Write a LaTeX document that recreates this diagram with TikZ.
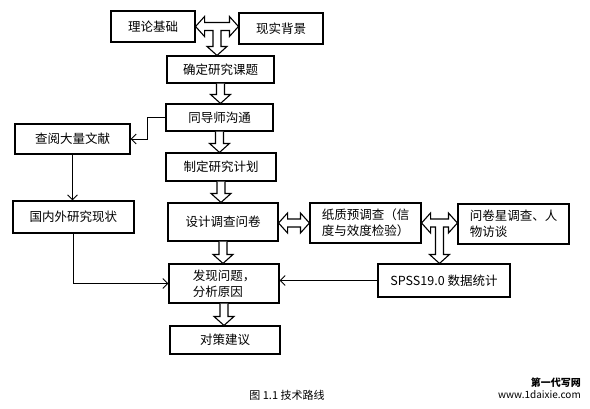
\documentclass[tikz,border=0pt]{standalone}
\usepackage{fontspec}
\setmainfont{Noto Sans CJK SC}
\usetikzlibrary{arrows.meta,calc}
\tikzset{
  box/.style={draw,line width=1.1pt,inner sep=0pt,align=center,font=\fontsize{12.5}{16}\selectfont},
  lbox/.style={box,align=left},
  link/.style={line width=0.9pt,-{Straight Barb[length=5pt,width=10pt,line width=0.9pt]}},
  harrow/.style={line width=1.1pt,line join=miter,fill=white}
}
\def\sw{4pt}\def\hw{10pt}\def\hl{9pt}
% vertical hollow arrow: x from #1, from y of #1 to y of #2
\newcommand{\hdown}[2]{%
  \draw[harrow] let \p1=(#1), \p2=(#2) in
   (\x1-\sw,\y1) -- (\x1-\sw,\y2+\hl) -- (\x1-\hw,\y2+\hl) -- (\x1,\y2) -- (\x1+\hw,\y2+\hl) -- (\x1+\sw,\y2+\hl) -- (\x1+\sw,\y1);}
% horizontal double hollow arrow between #1 (left) and #2 (right), at y of #2
\newcommand{\hboth}[2]{%
  \draw[harrow] let \p1=(#1), \p2=(#2) in
   (\x1,\y2) -- (\x1+\hl,\y2+\hw) -- (\x1+\hl,\y2+\sw) -- (\x2-\hl,\y2+\sw) -- (\x2-\hl,\y2+\hw) -- (\x2,\y2)
   -- (\x2-\hl,\y2-\hw) -- (\x2-\hl,\y2-\sw) -- (\x1+\hl,\y2-\sw) -- (\x1+\hl,\y2-\hw) -- cycle;}
% T-shaped hollow arrow: left #1, right #2, down to #3, shaft at y #4 (offset)
\newcommand{\htee}[4]{%
  \draw[harrow] let \p1=(#1), \p2=(#2), \p3=(#3), \n1={(\x1+\x2)/2} in
   (\x1,\y2+#4) -- (\x1+\hl,\y2+#4+\hw) -- (\x1+\hl,\y2+#4+\sw) -- (\x2-\hl,\y2+#4+\sw) -- (\x2-\hl,\y2+#4+\hw) -- (\x2,\y2+#4)
   -- (\x2-\hl,\y2+#4-\hw) -- (\x2-\hl,\y2+#4-\sw) -- (\n1+\sw,\y2+#4-\sw) -- (\n1+\sw,\y3+\hl) -- (\n1+\hw,\y3+\hl)
   -- (\n1,\y3) -- (\n1-\hw,\y3+\hl) -- (\n1-\sw,\y3+\hl) -- (\n1-\sw,\y2+#4-\sw) -- (\x1+\hl,\y2+#4-\sw) -- (\x1+\hl,\y2+#4-\hw) -- cycle;}
\begin{document}
\begin{tikzpicture}[x=1pt,y=-1pt]
\useasboundingbox (0,0) rectangle (590,408);
\node[box,minimum width=84,minimum height=31] (th) at (153,26.5) {理论基础};
\node[box,minimum width=84,minimum height=31] (xs) at (281,28.5) {现实背景};
\node[box,minimum width=107,minimum height=27] (qd) at (220.5,69.5) {确定研究课题};
\node[box,minimum width=107,minimum height=27] (ds) at (219.5,117.5) {同导师沟通};
\node[box,minimum width=115,minimum height=30] (cy) at (72.5,139) {查阅大量文献};
\node[box,minimum width=110,minimum height=28] (zd) at (221,167) {制定研究计划};
\node[box,minimum width=121,minimum height=32] (gn) at (73.5,217) {国内外研究现状};
\node[box,minimum width=110,minimum height=38] (sj) at (223,222) {设计调查问卷};
\node[lbox,minimum width=111,minimum height=40] (zz) at (365.5,223) {纸质预调查（信\\度与效度检验）};
\node[lbox,minimum width=111,minimum height=40] (wj) at (513.5,224) {问卷星调查、人\\物访谈};
\node[lbox,minimum width=110,minimum height=39] (fx) at (224,283.5) {发现问题，\\分析原因};
\node[box,minimum width=132,minimum height=33] (sp) at (444,280.5) {SPSS19.0 数据统计};
\node[box,minimum width=110,minimum height=28] (dc) at (225,340) {对策建议};
\node[font=\fontsize{11}{13}\selectfont] (cap) at (287,395) {图 1.1 技术路线};
\node[anchor=east,align=right,inner sep=0pt,font=\fontsize{10}{12}\selectfont] (wm) at (581,388) {\textbf{第一代写网}\\www.1daixie.com};
% hollow arrows
\htee{th.east}{xs.west}{qd.north}{2pt}
\hdown{qd.south}{ds.north}
\hdown{ds.south}{zd.north}
\hdown{zd.south}{sj.north}
\hdown{sj.south}{fx.north}
\hdown{fx.south}{dc.north}
\hboth{sj.east}{zz.west}
\htee{zz.east}{wj.west}{sp.north}{1pt}
% line connectors
\draw[link] (ds.west) -- ++(-18,0) |- (cy.east);
\draw[link] (cy.south) -- (cy.south |- gn.north);
\draw[link] (gn.south) |- (fx.west);
\draw[link] (sp.west) -- (sp.west -| fx.east);
\end{tikzpicture}
\end{document}
